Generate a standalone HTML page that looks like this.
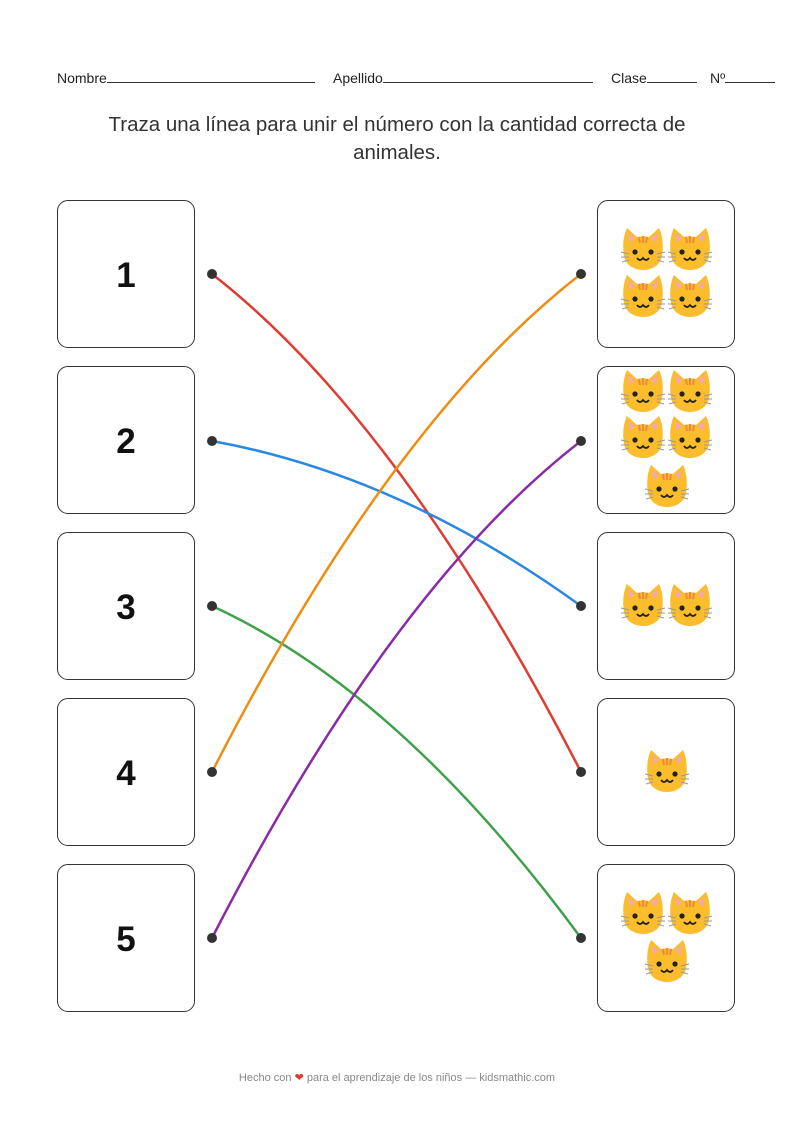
<!DOCTYPE html>
<html><head><meta charset="utf-8"><style>
body{margin:0;width:794px;height:1123px;background:#fff;position:relative;font-family:"Liberation Sans",sans-serif;color:#222;overflow:hidden}
.hdr{position:absolute;top:70px;font-size:14px;color:#222}
.ln{display:inline-block;border-bottom:1px solid #333;vertical-align:baseline}
.title{position:absolute;top:111px;left:0;width:794px;text-align:center;font-size:20.5px;line-height:28px;color:#333}
.box{position:absolute;width:136px;height:146px;border:1.6px solid #333;border-radius:11px;background:#fff}
.num{font-size:35px;font-weight:bold;text-align:center;line-height:150px;color:#111}
.foot{position:absolute;top:1071px;width:794px;text-align:center;font-size:11px;color:#888}
svg{position:absolute;left:0;top:0}
</style></head><body>
<div class="hdr" style="left:57px">Nombre<span class="ln" style="width:208px"></span></div>
<div class="hdr" style="left:333px">Apellido<span class="ln" style="width:210px"></span></div>
<div class="hdr" style="left:611px">Clase<span class="ln" style="width:50px"></span></div>
<div class="hdr" style="left:710px">Nº<span class="ln" style="width:50px"></span></div>
<div class="title">Traza una línea para unir el número con la cantidad correcta de<br>animales.</div>

<div class="box num" style="left:57px;top:200px">1</div>
<div class="box num" style="left:57px;top:366px">2</div>
<div class="box num" style="left:57px;top:532px">3</div>
<div class="box num" style="left:57px;top:698px">4</div>
<div class="box num" style="left:57px;top:864px">5</div>
<div class="box" style="left:597px;top:200px"></div>
<div class="box" style="left:597px;top:366px"></div>
<div class="box" style="left:597px;top:532px"></div>
<div class="box" style="left:597px;top:698px"></div>
<div class="box" style="left:597px;top:864px"></div>

<svg width="794" height="1123" viewBox="0 0 794 1123">
<defs>
<g id="cat">
<path d="M-19,6 C-21,-6 -19,-16 -16,-22 L-6,-13 C-2,-14 2,-14 6,-13 L16,-22 C19,-16 21,-6 19,6 C17,16 8,20 0,20 C-8,20 -17,16 -19,6Z" fill="#fbbd2c"/>
<path d="M-15,-17 L-8,-12 -13,-7Z M15,-17 L8,-12 13,-7Z" fill="#f6a9a9"/>
<path d="M-4,-13 L-3,-7 M0,-14 L0,-7 M4,-13 L3,-7" stroke="#f08a3a" stroke-width="2"/>
<circle cx="-8" cy="2" r="2.6" fill="#222"/><circle cx="8" cy="2" r="2.6" fill="#222"/>
<path d="M-6,8 Q-3,12 0,8 Q3,12 6,8" stroke="#222" stroke-width="1.8" fill="none"/>
<path d="M-14,4 L-22,2 M-14,7 L-22,7 M-14,10 L-21,12 M14,4 L22,2 M14,7 L22,7 M14,10 L21,12" stroke="#999" stroke-width="1"/>
</g>
</defs>
<use href="#cat" x="643" y="250"/><use href="#cat" x="690" y="250"/>
<use href="#cat" x="643" y="297"/><use href="#cat" x="690" y="297"/>
<use href="#cat" x="643" y="392"/><use href="#cat" x="690" y="392"/>
<use href="#cat" x="643" y="438"/><use href="#cat" x="690" y="438"/>
<use href="#cat" x="667" y="487"/>
<use href="#cat" x="643" y="606"/><use href="#cat" x="690" y="606"/>
<use href="#cat" x="667" y="772"/>
<use href="#cat" x="643" y="914"/><use href="#cat" x="690" y="914"/>
<use href="#cat" x="667" y="962"/>
<g fill="none" stroke-width="2.5">
<path d="M212,274 Q400,420 581,772" stroke="#e03c31"/>
<path d="M212,441 Q400,475 581,606" stroke="#2a88e0"/>
<path d="M212,606 Q400,692 581,938" stroke="#3fa04a"/>
<path d="M212,772 Q392,420 581,274" stroke="#f08c10"/>
<path d="M212,938 Q392,587 581,441" stroke="#8a2aa8"/>
</g>
<g fill="#333">
<circle cx="212" cy="274" r="5"/><circle cx="212" cy="441" r="5"/><circle cx="212" cy="606" r="5"/><circle cx="212" cy="772" r="5"/><circle cx="212" cy="938" r="5"/>
<circle cx="581" cy="274" r="5"/><circle cx="581" cy="441" r="5"/><circle cx="581" cy="606" r="5"/><circle cx="581" cy="772" r="5"/><circle cx="581" cy="938" r="5"/>
</g>
</svg>
<div class="foot">Hecho con <span style="color:#e03c31">❤</span> para el aprendizaje de los niños — kidsmathic.com</div>
</body></html>
